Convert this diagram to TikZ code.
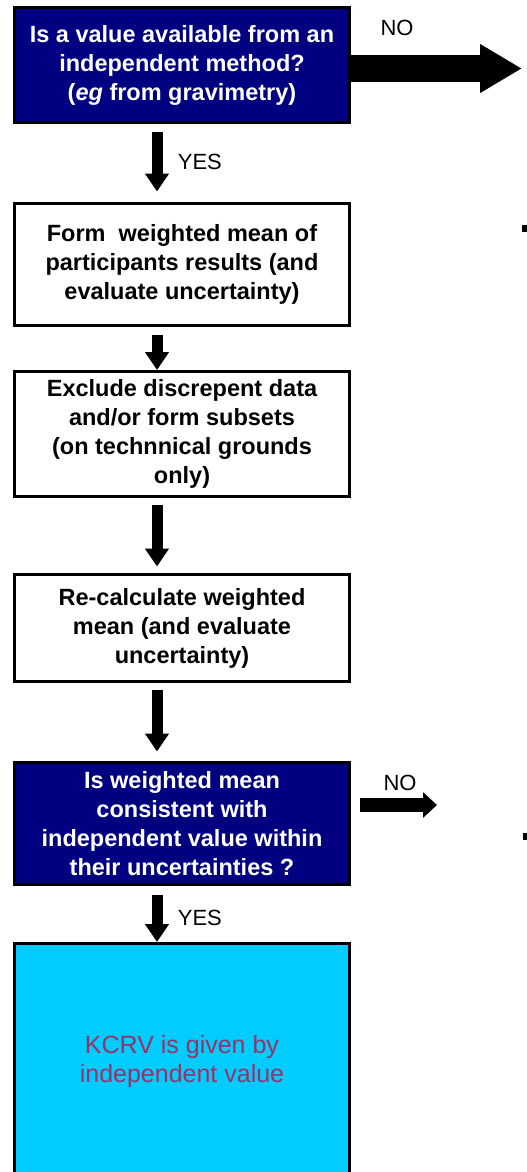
\documentclass[tikz,border=0pt]{standalone}
\usepackage{fontspec}
\setmainfont{Liberation Sans}
\usetikzlibrary{arrows.meta}

\definecolor{qnavy}{RGB}{0,0,128}
\definecolor{kcrvcyan}{RGB}{0,204,255}
\definecolor{kcrvtext}{RGB}{153,51,102}

\tikzset{
    stepbox/.style={draw=black, line width=3pt, fill=white, minimum width=335pt,
        inner sep=0pt, align=center, font=\fontsize{23.5}{29}\selectfont\bfseries},
    question/.style={stepbox, fill=qnavy, text=white},
    result/.style={stepbox, fill=kcrvcyan, text=kcrvtext, font=\fontsize{25}{29}\selectfont},
    lbl/.style={font=\fontsize{22}{26}\selectfont},
    downarrow/.style={line width=11pt, -{Triangle[length=18pt,width=23pt]}},
    bignoarrow/.style={line width=27pt, -{Triangle[length=42pt,width=46pt]}},
    smallnoarrow/.style={line width=14pt, -{Triangle[length=14pt,width=25pt]}}
}

\begin{document}
\begin{tikzpicture}[x=1pt,y=-1pt]
    \useasboundingbox (0,0) rectangle (527,1172);

    \node[question, minimum height=115pt] (Available) at (182,65)
        {Is a value available from an\\independent method?\\(\textit{eg} from gravimetry)};
    \node[stepbox, minimum height=122pt] (WMean) at (182,264.5)
        {Form\ \ weighted mean of\\participants results (and\\evaluate uncertainty)};
    \node[stepbox, minimum height=125pt] (Exclude) at (182,434)
        {Exclude discrepent data\\and/or form subsets\\(on technnical grounds\\only)};
    \node[stepbox, minimum height=107pt] (Recalc) at (182,628)
        {Re-calculate weighted\\mean (and evaluate\\uncertainty)};
    \node[question, minimum height=122pt] (Consistent) at (182,823.5)
        {Is weighted mean\\consistent with\\independent value within\\their uncertainties ?};
    \node[result, minimum height=237pt] (KCRV) at (182,1062)
        {KCRV is given by\\independent value};

    \coordinate (NoTop) at (522,68.5);
    \coordinate (NoBottom) at (437,805);

    \draw[bignoarrow] ([yshift=-3.5pt]Available.east) -- (NoTop);
    \node[lbl] (NoTopLabel) at (397,28) {NO};
    \draw[smallnoarrow] ([xshift=8.5pt,yshift=18.5pt]Consistent.east) -- (NoBottom);
    \node[lbl] (NoBottomLabel) at (400,783) {NO};

    \draw[downarrow] ([xshift=-25pt,yshift=-7.5pt]Available.south)
        -- node[lbl, right=12pt] {YES} ([xshift=-25pt,yshift=10.5pt]WMean.north);
    \draw[downarrow] ([xshift=-25pt,yshift=-7.5pt]WMean.south) -- ([xshift=-25pt]Exclude.north);
    \draw[downarrow] ([xshift=-25pt,yshift=-6.5pt]Exclude.south) -- ([xshift=-25pt,yshift=6.5pt]Recalc.north);
    \draw[downarrow] ([xshift=-25pt,yshift=-6.5pt]Recalc.south) -- ([xshift=-25pt,yshift=9.5pt]Consistent.north);
    \draw[downarrow] ([xshift=-25pt,yshift=-8.5pt]Consistent.south)
        -- node[lbl, right=12pt] {YES} ([xshift=-25pt]KCRV.north);

    % cut-off marks at the right edge
    \fill (522,225) rectangle (527,232);
    \fill (523,833) rectangle (527,840);
\end{tikzpicture}
\end{document}
